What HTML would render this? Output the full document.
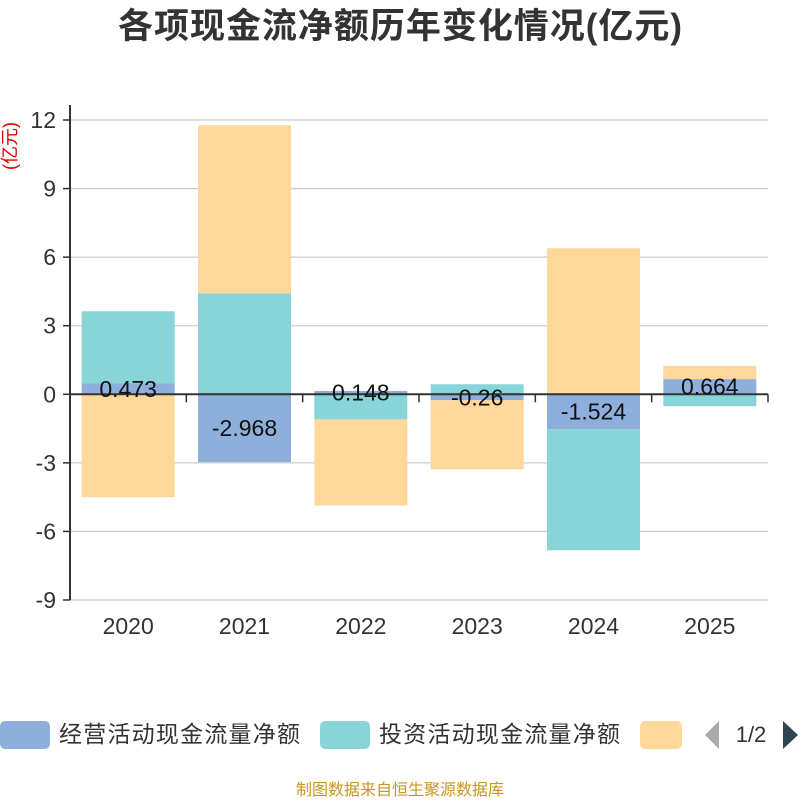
<!DOCTYPE html>
<html><head><meta charset="utf-8"><style>
body{margin:0;background:#fff;}
svg{display:block;font-family:"Liberation Sans","Noto Sans CJK SC",sans-serif;}
</style></head><body>
<svg id="c" width="800" height="800">
<text x="400" y="38" text-anchor="middle" font-size="35" font-weight="bold" textLength="564" fill="#333">各项现金流净额历年变化情况(亿元)</text>
<text transform="translate(16,146) rotate(-90)" text-anchor="middle" font-size="18" fill="#e00000">(亿元)</text>
<g id="grid"></g><g id="bars"></g><g id="axes"></g><g id="labels"></g>
<g>
<rect x="0" y="721" width="50" height="28" rx="5" fill="#8eaedb"/>
<text x="59" y="742" font-size="23" textLength="241" fill="#333">经营活动现金流量净额</text>
<rect x="320" y="721" width="50" height="28" rx="5" fill="#88d5d9"/>
<text x="379" y="742" font-size="23" textLength="241" fill="#333">投资活动现金流量净额</text>
<rect x="640" y="721" width="42" height="28" rx="5" fill="#fed898"/>
<polygon points="719,721 719,749 705,735" fill="#aaa"/>
<text x="751" y="742" text-anchor="middle" font-size="22" fill="#333">1/2</text>
<polygon points="783,721 783,749 798,735" fill="#2f4554"/>
</g>
<text x="400" y="795" text-anchor="middle" font-size="16" fill="#c8961e">制图数据来自恒生聚源数据库</text>
</svg>
<script>
const categories=["2020","2021","2022","2023","2024","2025"];
const operating=[0.473,-2.968,0.148,-0.26,-1.524,0.664];
const investing=[3.16,4.42,-1.1,0.44,-5.3,-0.52];
const financing=[-4.5,7.35,-3.76,-3.02,6.39,0.58];
const opLabels=["0.473","-2.968","0.148","-0.26","-1.524","0.664"];
const yTicks=[-9,-6,-3,0,3,6,9,12];
const NS="http://www.w3.org/2000/svg";
const X0=70,X1=768,YT=120,YB=600,YMIN=-9,YMAX=12;
const y=v=>YB-(v-YMIN)/(YMAX-YMIN)*(YB-YT);
const band=(X1-X0)/categories.length;
const xc=i=>X0+band*(i+0.5);
const BW=93;
function mk(t,a,p){const e=document.createElementNS(NS,t);for(const k in a)e.setAttribute(k,a[k]);document.getElementById(p).appendChild(e);return e;}
yTicks.forEach(t=>{
 const l=mk('line',{x1:X0,x2:X1,y1:y(t),y2:y(t),stroke:t===0?'#333':'#ccc','stroke-width':t===0?2:1.3},t===0?'axes':'grid');
 
 
 const tk=mk('line',{x1:X0-7,x2:X0,y1:y(t),y2:y(t),stroke:'#333','stroke-width':1.5},'axes');
 
 
 const tx=mk('text',{x:X0-14,y:y(t)+8,'text-anchor':'end','font-size':23,fill:'#333'},'axes');
 tx.textContent=t;
 
 
});
const ya=mk('line',{x1:X0,x2:X0,y1:105,y2:YB,stroke:'#333','stroke-width':2},'axes');


for(let i=0;i<=categories.length;i++){
 const tk=mk('line',{x1:X0+band*i,x2:X0+band*i,y1:y(0),y2:y(0)+8,stroke:'#333','stroke-width':1.5},'axes');
 
 
}
const series=[[operating,'#8eaedb','operating'],[investing,'#88d5d9','investing'],[financing,'#fed898','financing']];
categories.forEach((c,i)=>{
 let pos=0,neg=0;
 series.forEach(([arr,col,nm])=>{
  const v=arr[i];let a,b;
  if(v>=0){a=pos;b=pos+v;pos=b;}else{a=neg;b=neg+v;neg=b;}
  const r=mk('rect',{x:xc(i)-BW/2,y:Math.min(y(a),y(b)),width:BW,height:Math.abs(y(a)-y(b)),fill:col},'bars');
  
  
 });
 const lb=mk('text',{x:xc(i),y:y(operating[i]/2)+8,'text-anchor':'middle','font-size':23,fill:'#111'},'labels');
 lb.textContent=opLabels[i];
 
 
 const xl=mk('text',{x:xc(i),y:634,'text-anchor':'middle','font-size':23,fill:'#333'},'axes');
 xl.textContent=c;
 
 
});
</script>
</body></html>
